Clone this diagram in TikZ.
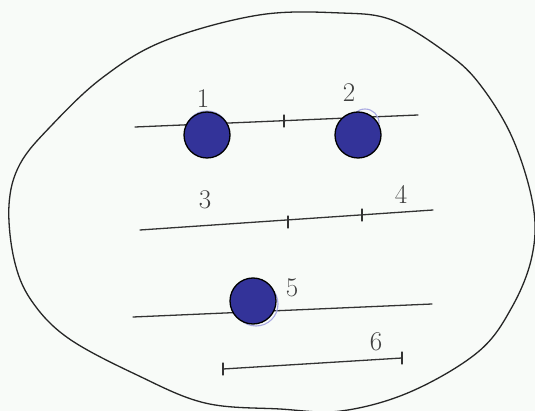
\documentclass[tikz,border=0pt]{standalone}
\usepackage{tikz}
\begin{document}
\begin{tikzpicture}[x=1pt,y=-1pt,
  pencil/.style={draw=black!80,line width=1.3pt,line cap=round},
  outline/.style={draw=black!85,line width=1.3pt},
  dot/.style={circle,minimum size=46pt,inner sep=0pt,fill=dotblue,draw=black,line width=1.3pt},
  ghost/.style={draw=gray!50!blue!45,line width=1.1pt},
  lbl/.style={inner sep=0pt,text=black!75,font=\fontsize{27}{27}\selectfont},
  tick/.style={pencil}]
\definecolor{dotblue}{HTML}{333399}
\definecolor{paper}{HTML}{F8FBF8}
\useasboundingbox (0,0) rectangle (535,411);
\fill[paper] (0,0) rectangle (535,411);
% outer blob
\draw[outline] plot[smooth cycle,tension=0.6] coordinates {
 (341,13) (259,15) (164,41) (102,78) (51,126) (20,164) (9,205) (14,259)
 (31,300) (68,338) (137,375) (205,403) (280,409) (341,411) (410,392)
 (478,352) (512,307) (532,256) (533,205) (512,137) (478,82) (444,51) (392,20)};
% line 1
\coordinate (a1) at (135,127); \coordinate (b1) at (418,115);
\coordinate (t1) at (284,121);
\draw[pencil] (a1) -- (b1);
\draw[tick] ([yshift=-6pt]t1) -- ([yshift=6pt]t1);
% line 2
\coordinate (a2) at (140,230); \coordinate (b2) at (433,210);
\coordinate (t2) at (288,222); \coordinate (t3) at (362,215);
\draw[pencil] (a2) -- (b2);
\draw[tick] ([yshift=-6pt]t2) -- ([yshift=6pt]t2);
\draw[tick] ([yshift=-6pt]t3) -- ([yshift=6pt]t3);
% line 3
\coordinate (a3) at (133,317); \coordinate (b3) at (432,304);
\draw[pencil] (a3) -- (b3);
% line 4
\coordinate (a4) at (223,369); \coordinate (b4) at (402,358);
\draw[pencil] (a4) -- (b4);
\draw[tick] ([yshift=-6pt]a4) -- ([yshift=6pt]a4);
\draw[tick] ([yshift=-6pt]b4) -- ([yshift=6pt]b4);
% faint sketched circles
\draw[ghost] (365,123) circle (14);
\draw[ghost] (256,304) circle (22);
\draw[ghost] (207,133) circle (22);
% dots
\node[dot] (c1) at (207,135) {};
\node[dot] (c2) at (358,135) {};
\node[dot] (c5) at (253,301) {};
% labels
\node[lbl] (l1) at (203,99) {1};
\node[lbl] (l2) at (349,93) {2};
\node[lbl] (l3) at (205,200) {3};
\node[lbl] (l4) at (401,194) {4};
\node[lbl] (l5) at (292,288) {5};
\node[lbl] (l6) at (376,342) {6};
\end{tikzpicture}
\end{document}
